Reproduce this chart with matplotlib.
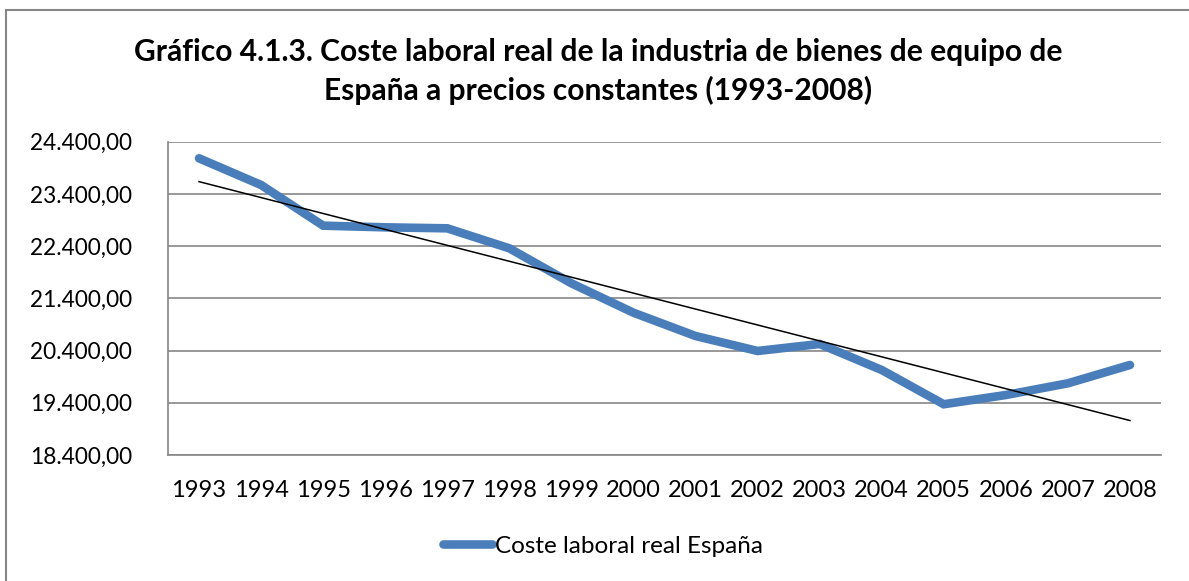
import numpy as np
import matplotlib
matplotlib.use("Agg")
import matplotlib.pyplot as plt
from matplotlib.ticker import FuncFormatter
from matplotlib.patches import Rectangle

# data
years = ["1993", "1994", "1995", "1996", "1997", "1998", "1999", "2000",
         "2001", "2002", "2003", "2004", "2005", "2006", "2007", "2008"]
coste = [24082, 23571, 22792, 22760, 22741, 22358, 21688, 21125,
         20679, 20392, 20526, 20028, 19372, 19549, 19773, 20124]
yticks = [18400, 19400, 20400, 21400, 22400, 23400, 24400]

plt.rcParams['font.family'] = ['Lato', 'DejaVu Sans']

fig = plt.figure(figsize=(11.89, 5.81), dpi=100)
ax = fig.add_axes([168/1189, 1-455/581, (1161-168)/1189, (455-141.7)/581])

x = np.arange(len(years))
ax.plot(x, coste, color="#4A7EBB", lw=6.2, solid_capstyle="round",
        solid_joinstyle="miter", label="Coste laboral real España", zorder=3)

# linear trend line
k, b = np.polyfit(x, coste, 1)
ax.plot(x, k*x + b, color="black", lw=1.1, zorder=4)

ax.set_xlim(-0.5, len(years) - 0.5)
ax.set_ylim(yticks[0], yticks[-1])
ax.set_yticks(yticks)
ax.set_xticks(x)
ax.set_xticklabels(years)

def fmt(v, pos):
    s = "{:,.2f}".format(v)
    return s.replace(",", "X").replace(".", ",").replace("X", ".")

ax.yaxis.set_major_formatter(FuncFormatter(fmt))
ax.grid(axis="y", color="#868686", lw=1.2)
ax.set_axisbelow(True)
for s in ["top", "right"]:
    ax.spines[s].set_visible(False)
ax.spines["left"].set_color("#868686")
ax.spines["bottom"].set_color("#868686")
ax.spines["left"].set_linewidth(1.2)
ax.spines["bottom"].set_linewidth(1.2)
ax.tick_params(axis="both", length=0, labelsize=17)
ax.tick_params(axis="y", pad=26, labelsize=16.3)
ax.tick_params(axis="x", pad=18)

fig.text(0.503, 1-100/581, "Gráfico 4.1.3. Coste laboral real de la industria de bienes de equipo de\nEspaña a precios constantes (1993-2008)",
         ha="center", va="baseline", fontsize=21.6, fontweight="bold",
         linespacing=1.39)

fig.legend(loc="center", bbox_to_anchor=(603/1189, 1-546/581), frameon=False,
           fontsize=17.5, handlelength=2.0, handletextpad=0.1)

fig.patches.append(Rectangle((6/1189, -0.1), 1.2, 1-10/581 + 0.1, transform=fig.transFigure,
                             fill=False, edgecolor="#868686", lw=1.5))

fig.savefig("out.png", dpi=100)
